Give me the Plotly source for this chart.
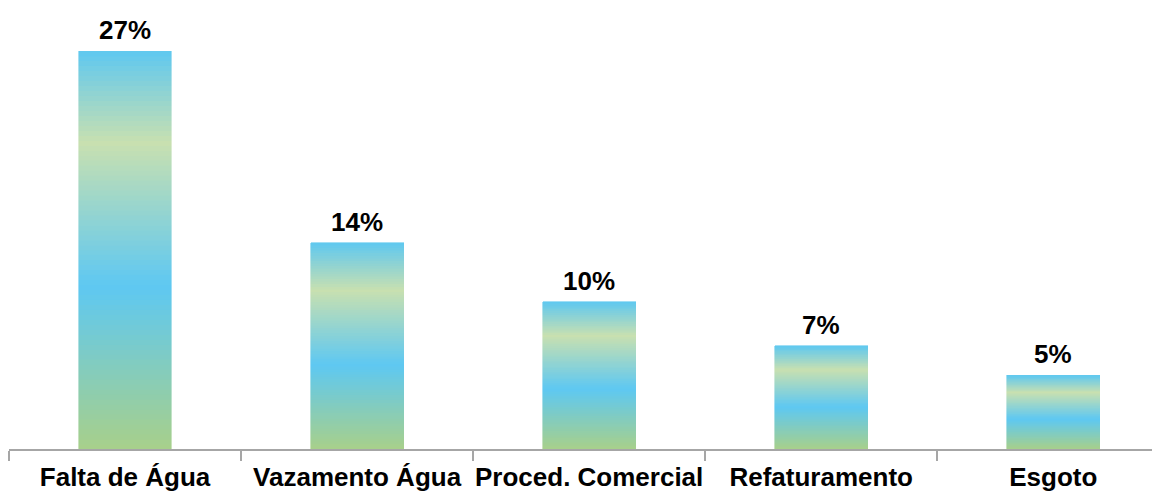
import plotly.graph_objects as go
from plotly.colors import sample_colorscale

categories = ["Falta de Água", "Vazamento Água", "Proced. Comercial", "Refaturamento", "Esgoto"]
values = [27, 14, 10, 7, 5]
labels = ["27%", "14%", "10%", "7%", "5%"]

# vertical gradient (0 = bottom of bar, 1 = top of bar)
gradient = [
    [0.0, "rgb(168,208,138)"],
    [0.41, "rgb(94,200,242)"],
    [0.77, "rgb(200,224,176)"],
    [1.0, "rgb(95,200,240)"],
]
N = 80

fig = go.Figure()
fracs = [(i + 0.5) / N for i in range(N)]
colors = sample_colorscale(gradient, fracs)
for i in range(N):
    fig.add_trace(go.Bar(
        x=categories,
        y=[v / N for v in values],
        marker=dict(color=colors[i], line=dict(width=0.6, color=colors[i])),
        width=0.4,
        hoverinfo="skip",
        showlegend=False,
    ))

for c, v, t in zip(categories, values, labels):
    fig.add_annotation(
        x=c, y=v, text=t, showarrow=False, yanchor="bottom", yshift=4,
        font=dict(family="Liberation Sans", size=26, color="black", weight="bold"),
    )

fig.update_layout(
    barmode="stack",
    bargap=0.6,
    width=1152, height=489,
    margin=dict(l=1, r=0, t=0, b=48),
    plot_bgcolor="white", paper_bgcolor="white",
    font=dict(family="Liberation Sans", color="black"),
    xaxis=dict(
        range=[-0.5, 4.46], automargin=False,
        showline=True, linecolor="#a6a6a6", linewidth=1.5,
        ticks="outside", tickson="boundaries", ticklen=10, tickcolor="#a6a6a6", tickwidth=1.5,
        tickfont=dict(family="Liberation Sans", size=26, color="black", weight="bold"),
        tickangle=0, ticklabelstandoff=4,
        showgrid=False, zeroline=False,
    ),
    yaxis=dict(
        range=[0, 29.92], visible=False, showgrid=False, zeroline=False, automargin=False,
    ),
)

fig.write_html("out.html")
